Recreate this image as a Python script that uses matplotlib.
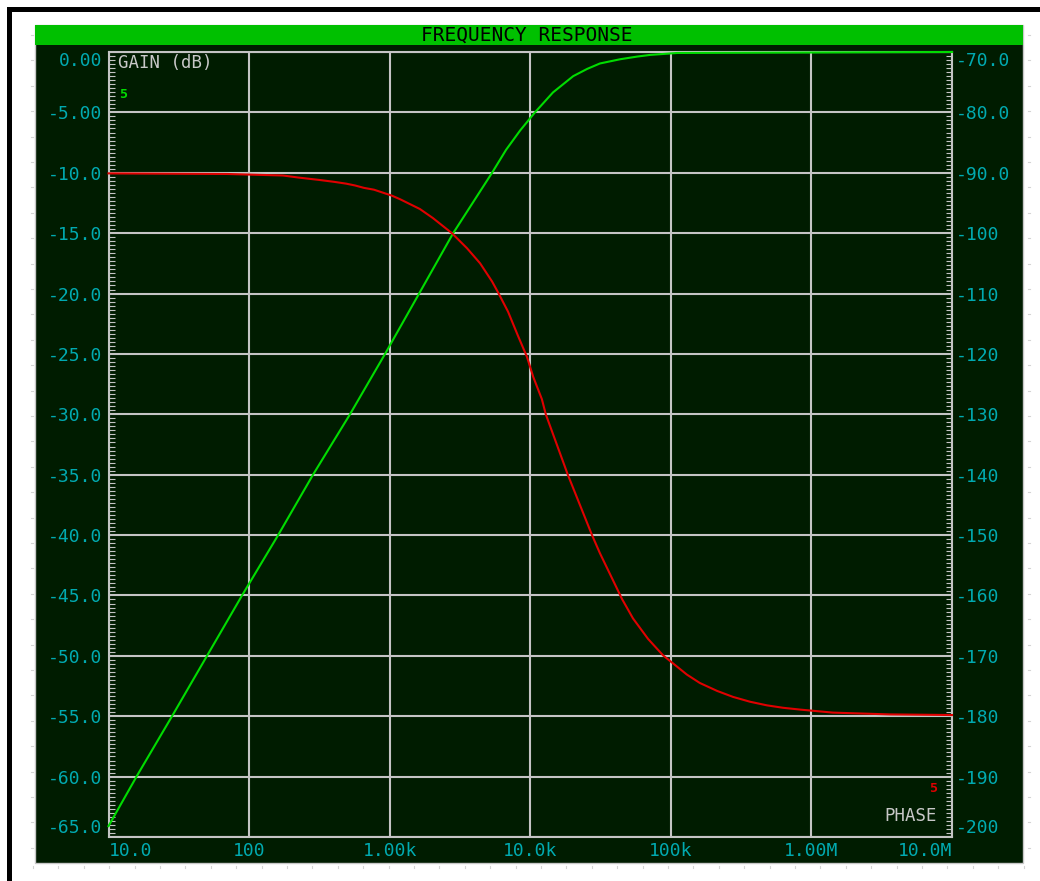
import numpy as np
import matplotlib
matplotlib.use("Agg")
import matplotlib.pyplot as plt
from matplotlib.patches import Rectangle
from matplotlib.ticker import MultipleLocator, NullLocator

# ---- data -------------------------------------------------------------
gain_freq = [10, 16, 28.3, 50.2, 89.1, 161, 285, 522, 927, 1620, 2830, 5350,
             6730, 8470, 10800, 14500, 20200, 25400, 31300, 43600, 57500,
             71300, 111000, 1e7]
gain_db = [-64.1, -59.9, -55, -50, -45, -40, -35, -30, -25, -20, -15, -10,
           -8.1, -6.5, -5.0, -3.35, -2.0, -1.4, -0.95, -0.6, -0.38,
           -0.24, -0.08, 0]

phase_freq = [10, 69.7, 174, 226, 319, 402, 490, 566, 656, 773, 897, 1040,
              1190, 1640, 2030, 2770, 3550, 4400, 5350, 5900, 6950, 8180,
              9480, 10500, 12100, 12900, 18500, 27500, 31300, 45000, 53800,
              68900, 87900, 130000, 161000, 213000, 277000, 366000, 483000,
              628000, 830000, 1420000, 3620000, 1e7]
phase_deg = [-90.1, -90.2, -90.45, -90.8, -91.2, -91.5, -91.8, -92.1, -92.5,
             -92.8, -93.3, -93.8, -94.4, -96.0, -97.5, -100.0, -102.5, -105.0,
             -108.0, -109.8, -113.0, -117.0, -120.5, -123.8, -127.5, -130.0,
             -140.0, -150.0, -153.0, -160.6, -163.8, -167.2, -169.9, -173.1,
             -174.5, -175.8, -176.8, -177.6, -178.2, -178.6, -178.9, -179.4,
             -179.7, -179.8]

freq_ticks = [10, 100, 1e3, 1e4, 1e5, 1e6, 1e7]
freq_labels = ["10.0", "100", "1.00k", "10.0k", "100k", "1.00M", "10.0M"]
gain_ticks = [0, -5, -10, -15, -20, -25, -30, -35, -40, -45, -50, -55, -60, -65]
gain_labels = ["0.00", "-5.00", "-10.0", "-15.0", "-20.0", "-25.0", "-30.0",
               "-35.0", "-40.0", "-45.0", "-50.0", "-55.0", "-60.0", "-65.0"]
phase_ticks = [-70, -80, -90, -100, -110, -120, -130, -140, -150, -160,
               -170, -180, -190, -200]
phase_labels = ["-70.0", "-80.0", "-90.0", "-100", "-110", "-120", "-130",
                "-140", "-150", "-160", "-170", "-180", "-190", "-200"]

title = "FREQUENCY RESPONSE"

# ---- style ------------------------------------------------------------
W, H = 1040, 881
BG = "#001c00"
BAR = "#00c000"
GRID = "#c4c4c4"
TEAL = "#00aab0"
LABEL = "#c8c8c8"
GREEN = "#00dc00"
RED = "#e00000"
MONO = "DejaVu Sans Mono"

plt.rcParams["font.family"] = [MONO, "DejaVu Sans"]

fig = plt.figure(figsize=(W / 100, H / 100), dpi=100)
fig.patch.set_facecolor("white")


def fx(x):
    return x / W


def fy(y):
    return 1 - y / H


# background layer in pixel coordinates
bg = fig.add_axes([0, 0, 1, 1])
bg.set_xlim(0, W)
bg.set_ylim(H, 0)
bg.axis("off")
bg.set_zorder(-1)

# outer black frame (left and top edges)
bg.add_patch(Rectangle((7, 7), 5, H, facecolor="black", edgecolor="none"))
bg.add_patch(Rectangle((7, 7), W, 5, facecolor="black", edgecolor="none"))

# graph panel and title bar
bg.add_patch(Rectangle((35, 25), 988, 838, facecolor=BG, edgecolor="#c8c8c8",
                       lw=1.0))
bg.add_patch(Rectangle((35, 25), 988, 20, facecolor=BAR, edgecolor="none"))

# faint grid marks around the panel
for yy in np.arange(35, 860, 25.4):
    bg.plot([31, 33], [yy, yy], color="#d4d4d4", lw=0.8)
    bg.plot([1028, 1030], [yy, yy], color="#d4d4d4", lw=0.8)
for xx in np.arange(33, 1025, 25.4):
    bg.plot([xx, xx], [866, 868], color="#d4d4d4", lw=0.8)

# title
fig.text(fx(527), fy(35.5), title, color="black", fontsize=14,
         ha="center", va="center", family=MONO)

# ---- main axes --------------------------------------------------------
ax = fig.add_axes([fx(108.5), fy(837), (952 - 108.5) / W, (837 - 52) / H])
ax.set_facecolor(BG)
ax.set_xscale("log")
ax.set_xlim(10, 1e7)
ax.set_ylim(-65, 0)

for s in ax.spines.values():
    s.set_color(GRID)
    s.set_linewidth(1.5)

ax.grid(True, which="major", color=GRID, lw=1.5)
ax.set_xticks(freq_ticks, freq_labels)
ax.xaxis.set_minor_locator(NullLocator())
ax.set_yticks(gain_ticks, gain_labels)
ax.yaxis.set_minor_locator(MultipleLocator(5 / 15))

ax.tick_params(axis="x", which="major", length=0, pad=3.5, labelsize=13,
               labelcolor=TEAL)
ax.tick_params(axis="y", which="major", length=0, pad=4.5, labelsize=13,
               labelcolor=TEAL)
ax.tick_params(axis="y", which="minor", direction="in", length=4, width=0.8,
               color=GRID, left=True, right=False)

xl = ax.get_xticklabels()
xl[0].set_ha("left")
xl[-1].set_ha("right")
yl = ax.get_yticklabels()
yl[0].set_va("top")
yl[-1].set_va("bottom")

ax.plot(gain_freq, gain_db, color=GREEN, lw=1.5, zorder=3, clip_on=False)

# ---- phase axis -------------------------------------------------------
ax2 = ax.twinx()
ax2.set_ylim(-200, -70)
for s in ax2.spines.values():
    s.set_visible(False)
ax2.set_yticks(phase_ticks, phase_labels)
ax2.yaxis.set_minor_locator(MultipleLocator(10 / 15))
ax2.tick_params(axis="y", which="major", length=0, pad=2.5, labelsize=13,
                labelcolor=TEAL)
ax2.tick_params(axis="y", which="minor", direction="in", length=4, width=0.8,
                color=GRID, right=True, left=False)
pl = ax2.get_yticklabels()
pl[0].set_va("top")
pl[-1].set_va("bottom")

ax2.plot(phase_freq, phase_deg, color=RED, lw=1.5, zorder=3, clip_on=False)

# ---- trace captions ---------------------------------------------------
fig.text(fx(118), fy(63), "GAIN (dB)", color=LABEL, fontsize=12.5,
         ha="left", va="center", family=MONO)
fig.text(fx(119), fy(94), "5", color=GREEN, fontsize=9.5, ha="left",
         va="center", family=MONO, fontweight="bold")
fig.text(fx(937), fy(816), "PHASE", color=LABEL, fontsize=12.5,
         ha="right", va="center", family=MONO)
fig.text(fx(937), fy(788), "5", color=RED, fontsize=9.5, ha="right",
         va="center", family=MONO, fontweight="bold")

fig.savefig("out.png", dpi=100, facecolor="white")
